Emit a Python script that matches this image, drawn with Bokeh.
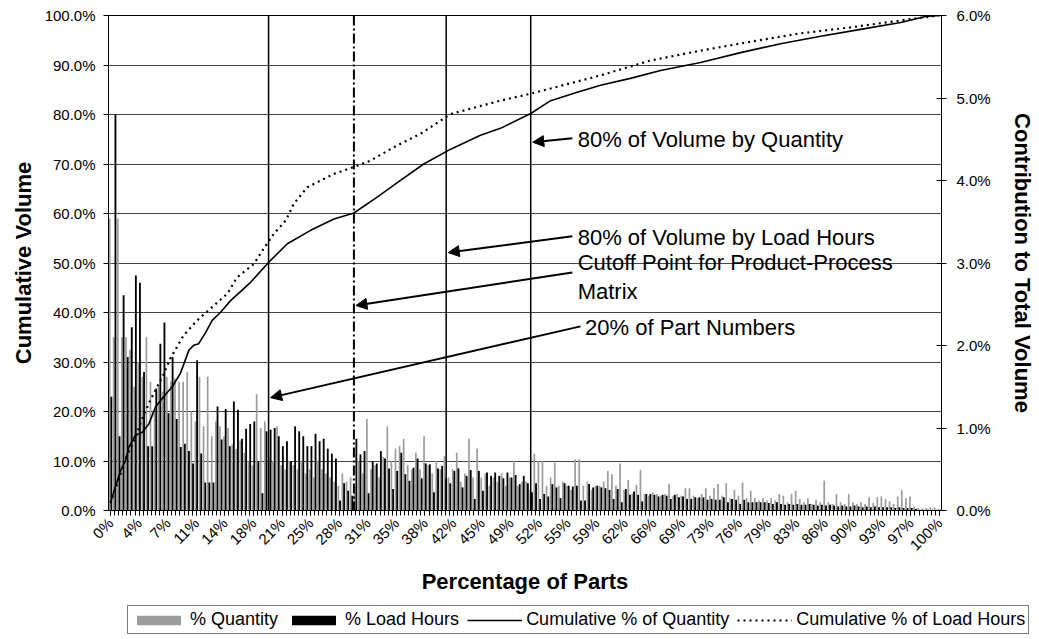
from math import pi
from bokeh.plotting import figure
from bokeh.layouts import column
from bokeh.models import (Range1d, LinearAxis, FixedTicker, PrintfTickFormatter, Span,
                          Arrow, NormalHead, Legend, LegendItem, ColumnDataSource)
from bokeh.transform import dodge
from bokeh.core.properties import value
from bokeh.embed import file_html
from bokeh.resources import INLINE

# ---------------- data ----------------
tick_labels = ["0%", "4%", "7%", "11%", "14%", "18%", "21%", "25%", "28%", "31%",
               "35%", "38%", "42%", "45%", "49%", "52%", "55%", "59%", "62%", "66%",
               "69%", "73%", "76%", "79%", "83%", "86%", "90%", "93%", "97%", "100%"]

# % Quantity (contribution to total volume, right axis, %)
qty_pct = [
    3.54, 2.10, 3.54, 2.10, 2.10, 1.95, 1.50, 1.80, 1.62, 2.10,
    1.56, 1.20, 1.50, 1.44, 1.62, 1.56, 1.60, 1.56, 1.56, 1.68,
    1.20, 1.08, 1.62, 1.02, 1.62, 0.90, 1.08, 1.02, 0.90, 1.00,
    0.80, 0.75, 0.85, 0.70, 0.60, 0.55, 1.41, 1.00, 1.08, 0.65,
    0.60, 1.02, 0.55, 0.50, 0.60, 0.55, 0.50, 0.60, 0.45, 0.50,
    0.40, 0.60, 0.50, 0.45, 0.40, 0.35, 0.30, 0.45, 0.35, 0.40,
    0.30, 0.60, 0.45, 1.11, 0.50, 0.55, 0.40, 0.65, 1.02, 0.60,
    0.75, 0.78, 0.87, 0.55, 0.50, 0.70, 0.50, 0.90, 0.55, 0.45,
    0.60, 0.50, 0.66, 0.40, 0.50, 0.70, 0.35, 0.45, 0.87, 0.40,
    0.75, 0.40, 0.45, 0.30, 0.40, 0.35, 0.45, 0.30, 0.40, 0.60,
    0.30, 0.35, 0.35, 0.25, 0.69, 0.60, 0.60, 0.30, 0.40, 0.58,
    0.30, 0.35, 0.30, 0.25, 0.62, 0.62, 0.30, 0.35, 0.25, 0.30,
    0.30, 0.35, 0.48, 0.44, 0.30, 0.57, 0.25, 0.37, 0.20, 0.31,
    0.49, 0.20, 0.18, 0.22, 0.20, 0.18, 0.20, 0.32, 0.18, 0.20,
    0.18, 0.27, 0.27, 0.18, 0.15, 0.20, 0.27, 0.18, 0.27, 0.32,
    0.18, 0.33, 0.15, 0.25, 0.18, 0.34, 0.15, 0.24, 0.15, 0.12,
    0.15, 0.12, 0.15, 0.12, 0.20, 0.18, 0.10, 0.20, 0.24, 0.14,
    0.10, 0.15, 0.08, 0.13, 0.10, 0.36, 0.10, 0.08, 0.20, 0.10,
    0.08, 0.20, 0.10, 0.08, 0.10, 0.08, 0.16, 0.09, 0.16, 0.17,
    0.14, 0.11, 0.08, 0.17, 0.25, 0.15, 0.17, 0.05, 0.03, 0.02,
    0.03, 0.04, 0.04, 0.02,
]

# % Load Hours (contribution to total volume, right axis, %)
hrs_pct = [
    1.38, 4.80, 0.90, 2.61, 1.86, 2.22, 2.85, 2.76, 1.68, 0.78,
    0.78, 1.48, 2.02, 2.28, 1.18, 1.86, 1.11, 0.77, 0.81, 0.72,
    0.57, 1.82, 0.69, 0.34, 0.34, 0.34, 1.26, 0.86, 1.23, 0.78,
    1.32, 1.22, 0.87, 0.99, 1.05, 1.08, 0.60, 0.21, 0.96, 0.98,
    1.00, 0.90, 0.78, 0.84, 0.60, 1.02, 0.96, 0.90, 0.78, 0.78,
    0.93, 0.84, 0.87, 0.75, 0.69, 0.63, 0.12, 0.33, 0.24, 0.18,
    0.87, 0.68, 0.72, 0.21, 0.60, 0.57, 0.72, 0.63, 0.51, 0.26,
    0.48, 0.70, 0.44, 0.36, 0.52, 0.63, 0.39, 0.57, 0.56, 0.22,
    0.51, 0.54, 0.39, 0.33, 0.48, 0.51, 0.28, 0.42, 0.49, 0.14,
    0.48, 0.24, 0.46, 0.42, 0.46, 0.42, 0.39, 0.46, 0.40, 0.43,
    0.32, 0.42, 0.33, 0.22, 0.33, 0.14, 0.20, 0.17, 0.32, 0.28,
    0.15, 0.33, 0.30, 0.29, 0.30, 0.12, 0.12, 0.32, 0.28, 0.30,
    0.28, 0.27, 0.25, 0.14, 0.26, 0.10, 0.26, 0.19, 0.23, 0.19,
    0.11, 0.20, 0.20, 0.19, 0.17, 0.19, 0.18, 0.14, 0.19, 0.16,
    0.17, 0.14, 0.14, 0.16, 0.16, 0.16, 0.13, 0.14, 0.13, 0.13,
    0.16, 0.10, 0.14, 0.13, 0.08, 0.13, 0.10, 0.10, 0.10, 0.10,
    0.10, 0.09, 0.08, 0.10, 0.08, 0.07, 0.08, 0.07, 0.08, 0.07,
    0.07, 0.08, 0.07, 0.06, 0.07, 0.06, 0.07, 0.06, 0.05, 0.06,
    0.05, 0.05, 0.06, 0.05, 0.04, 0.05, 0.04, 0.05, 0.04, 0.04,
    0.04, 0.04, 0.03, 0.04, 0.03, 0.03, 0.03, 0.02, 0.01, 0.01,
    0.01, 0.01, 0.01, 0.01,
]

parts = list(range(len(qty_pct)))

# Cumulative % of Quantity (left axis), read at part-index positions
cum_qty_x = [0, 0.4, 2.4, 3.7, 4.5, 6.1, 7.8, 9.4, 11, 13, 15.1, 17.1, 19.2, 20.4, 21.6,
             23.3, 24.9, 26.9, 29.4, 34.3, 38.8, 43.3, 49, 54.7, 59.6, 65.3, 71, 76.7,
             83.3, 90.6, 95.5, 102.9, 107.8, 113.9, 120, 127.3, 134.7, 144.5, 154.3,
             164.1, 173.9, 183.7, 193.5, 199.6, 203]
cum_qty = [1.5, 2.7, 8.0, 10.1, 12.8, 15.2, 15.8, 17.5, 20.9, 23.0, 25.0, 27.7, 32.4, 33.4,
           33.7, 36.0, 38.4, 40.0, 42.4, 46.1, 50.2, 53.9, 56.6, 58.9, 60.1, 63.3, 66.7,
           70.0, 73.0, 75.8, 77.2, 80.2, 82.8, 84.4, 85.9, 87.3, 88.9, 90.5, 92.5, 94.3,
           95.8, 97.2, 98.6, 99.8, 100.0]

# Cumulative % of Load Hours (left axis)
cum_hrs_x = [0, 0.8, 3.7, 5.7, 7.8, 9.8, 12.7, 14.7, 17.9, 21.2, 25.3, 28.6, 31, 35.1,
             37.5, 40, 42.9, 44.9, 48.2, 54.7, 59.6, 63.7, 69.4, 75.9, 83.3, 95.5, 102.9,
             120, 132.2, 144.5, 156.7, 169, 181.2, 193.5, 203]
cum_hrs = [1.5, 3.4, 10.5, 14.0, 18.6, 22.4, 27.0, 30.8, 35.4, 38.4, 41.4, 43.8, 47.1, 49.8,
           52.9, 55.9, 58.6, 62.0, 65.3, 68.0, 69.4, 70.7, 73.4, 76.1, 80.1, 82.8, 84.2,
           87.9, 90.9, 92.9, 94.7, 96.4, 97.6, 99.0, 100.0]

# reference lines (part index): 20% of parts, cutoff, 80% by load hours, 80% by quantity
marker_x = [38.7, 59.6, 82.2, 102.9]

FONT = "Liberation Sans"
QTY_COLOR = "#9c9c9c"

# ---------------- main figure ----------------
p = figure(frame_width=833, frame_height=495,
           x_range=Range1d(-0.5, 203.5), y_range=Range1d(0, 100),
           output_backend="svg", toolbar_location=None,
           min_border_left=108, min_border_right=91, min_border_top=15,
           min_border_bottom=94, background_fill_color="white",
           border_fill_color="white")
p.extra_y_ranges = {"contrib": Range1d(0, 6)}
p.outline_line_color = "black"
p.outline_line_width = 1

p.xgrid.visible = False
p.ygrid.ticker = FixedTicker(ticks=list(range(0, 101, 10)))
p.ygrid.grid_line_color = "#444444"
p.ygrid.grid_line_width = 1

# left axis
ly = p.yaxis[0]
ly.ticker = FixedTicker(ticks=list(range(0, 101, 10)))
ly.formatter = PrintfTickFormatter(format="%.1f%%")
ly.axis_label = "Cumulative Volume"
ly.axis_label_text_font = FONT
ly.axis_label_text_font_style = "bold"
ly.axis_label_text_font_size = "22px"
ly.axis_label_text_color = "black"
ly.axis_label_standoff = 6
ly.major_label_text_font = FONT
ly.major_label_text_font_size = "15px"
ly.major_label_text_color = "black"
ly.major_label_standoff = 8
ly.major_tick_in = 0
ly.major_tick_out = 5
ly.minor_tick_line_color = None
ly.axis_line_color = "black"

# right axis
ry = LinearAxis(y_range_name="contrib", ticker=FixedTicker(ticks=[0, 1, 2, 3, 4, 5, 6]),
                formatter=PrintfTickFormatter(format="%.1f%%"))
ry.axis_label = "Contribution to Total Volume"
ry.axis_label_text_font = FONT
ry.axis_label_text_font_style = "bold"
ry.axis_label_text_font_size = "22px"
ry.axis_label_text_color = "black"
ry.axis_label_standoff = 16
ry.major_label_text_font = FONT
ry.major_label_text_font_size = "15px"
ry.major_label_text_color = "black"
ry.major_label_standoff = 10
ry.major_tick_in = 5
ry.major_tick_out = 5
ry.minor_tick_line_color = None
ry.axis_line_color = "black"
p.add_layout(ry, "right")

# x axis
xa = p.xaxis[0]
label_ticks = list(range(0, 204, 7))
xa.ticker = FixedTicker(ticks=label_ticks, minor_ticks=parts)
xa.major_label_overrides = {t: lab for t, lab in zip(label_ticks, tick_labels)}
xa.major_label_orientation = pi / 4
xa.major_label_text_font = FONT
xa.major_label_text_font_size = "15px"
xa.major_label_text_color = "black"
xa.major_tick_in = 0
xa.major_tick_out = 5
xa.minor_tick_in = 0
xa.minor_tick_out = 5
xa.minor_tick_line_color = "black"
xa.axis_label = "Percentage of Parts"
xa.axis_label_text_font = FONT
xa.axis_label_text_font_style = "bold"
xa.axis_label_text_font_size = "22px"
xa.axis_label_text_color = "black"
xa.axis_label_standoff = 6
xa.axis_line_color = "black"

# bars
src = ColumnDataSource(dict(x=parts, qty=qty_pct, hrs=hrs_pct))
p.vbar(x=dodge("x", -0.22), top="qty", width=0.42, source=src,
       y_range_name="contrib", fill_color=QTY_COLOR, line_color=None)
p.vbar(x=dodge("x", 0.2), top="hrs", width=0.45, source=src,
       y_range_name="contrib", fill_color="black", line_color=None)

# cumulative lines
p.line(cum_qty_x, cum_qty, line_color="black", line_width=1.6)
p.line(cum_hrs_x, cum_hrs, line_color="black", line_width=2.2, line_dash="2 4")

# vertical reference lines
for i, xv in enumerate(marker_x):
    if i == 1:
        p.add_layout(Span(location=xv, dimension="height", line_color="black",
                          line_width=2, line_dash="10 3 2 3"))
    else:
        p.add_layout(Span(location=xv, dimension="height", line_color="black",
                          line_width=1.5))

# annotations with arrows
arrows = [((113.1, 75.2), (103.4, 74.4)),
          ((113.1, 55.4), (82.7, 52.1)),
          ((113.1, 48.1), (60.1, 41.4)),
          ((115.1, 37.2), (39.2, 22.8))]
for (x0, y0), (x1, y1) in arrows:
    p.add_layout(Arrow(x_start=x0, y_start=y0, x_end=x1, y_end=y1, line_width=2,
                       line_color="black",
                       end=NormalHead(size=11, fill_color="black", line_color="black")))

ann_x = [114.4, 114.4, 114.4, 114.4, 116.2]
ann_y = [74.9, 55.2, 50.1, 44.2, 37.0]
ann_t = ["80% of Volume by Quantity", "80% of Volume by Load Hours",
         "Cutoff Point for Product-Process", "Matrix", "20% of Part Numbers"]
p.text(x=ann_x, y=ann_y, text=ann_t, text_font=value(FONT), text_font_size="22px",
       text_baseline="middle", text_align="left", text_color="black")

# ---------------- legend strip (own small figure, same left border) ----------------
lg = figure(frame_width=923, frame_height=35, output_backend="svg", toolbar_location=None,
            x_axis_type=None, y_axis_type=None, x_range=Range1d(0, 1), y_range=Range1d(0, 1),
            min_border_left=108, min_border_right=0, min_border_top=0, min_border_bottom=0,
            background_fill_color="white", border_fill_color="white")
lg.outline_line_color = None
lg.xgrid.visible = False
lg.ygrid.visible = False
# swatch renderers: one point each, placed outside the visible range
k1 = lg.vbar(x=[-5], top=[-5], width=0.1, fill_color=QTY_COLOR, line_color=None)
k2 = lg.vbar(x=[-5], top=[-5], width=0.1, fill_color="black", line_color=None)
k3 = lg.line(x=[-5, -4], y=[-5, -5], line_color="black", line_width=1.6)
k4 = lg.line(x=[-5, -4], y=[-5, -5], line_color="black", line_width=2.2, line_dash="2 4")
legend = Legend(items=[LegendItem(label="% Quantity", renderers=[k1]),
                       LegendItem(label="% Load Hours", renderers=[k2]),
                       LegendItem(label="Cumulative % of Quantity", renderers=[k3]),
                       LegendItem(label="Cumulative % of Load Hours", renderers=[k4])],
                orientation="horizontal", location=(19, 5))
legend.label_text_font = FONT
legend.label_text_font_size = "18px"
legend.label_text_color = "black"
legend.label_height = 20
legend.glyph_width = 55
legend.glyph_height = 12
legend.spacing = 8
legend.padding = 3
legend.margin = 0
legend.label_standoff = 4
legend.border_line_color = "black"
legend.border_line_width = 1
legend.background_fill_alpha = 1
lg.add_layout(legend, "center")

open("out.html", "w").write(file_html(column(p, lg), INLINE))
